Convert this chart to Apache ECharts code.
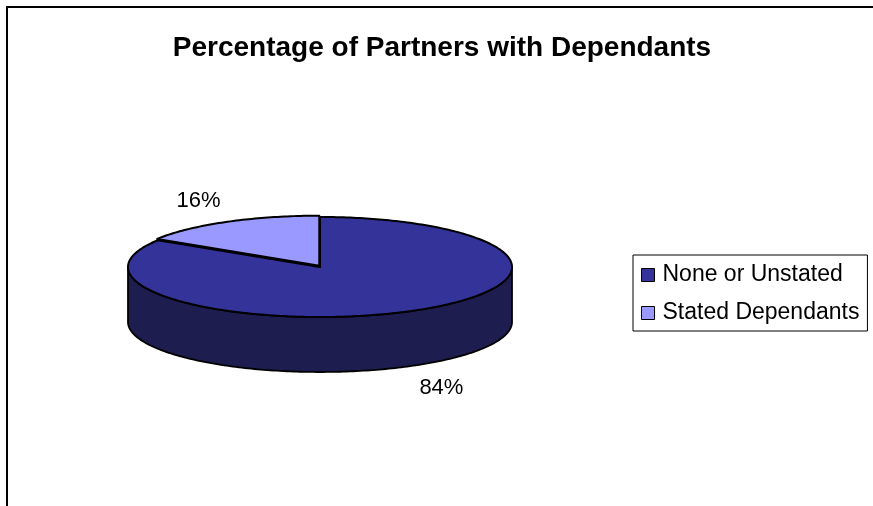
<!DOCTYPE html>
<html>
<head>
<meta charset="utf-8">
<title>Percentage of Partners with Dependants</title>
<script src="https://cdn.jsdelivr.net/npm/echarts@6/dist/echarts.min.js"></script>
<style>
  html, body { margin: 0; padding: 0; background: #fff; }
  #chart { width: 873px; height: 506px; }
</style>
</head>
<body>
<div id="chart"></div>
<script>
// data
const categories = ['None or Unstated', 'Stated Dependants'];
const values = [84, 16];

const total = values.reduce((s, v) => s + v, 0);
const starts = values.map((v, i) => values.slice(0, i).reduce((s, x) => s + x, 0));

// pie geometry (flattened 3d look)
const pie = { cx: 320, cy: 267, rx: 192, ry: 50, depth: 55 };
const topColors = ['#333399', '#9999ff'];
const sideColors = ['#1d1d4f', '#4d4d80'];
const explode = [0, 1.5];

const pt = (deg, dx, dy) => {
    const t = deg * Math.PI / 180;
    return [pie.cx + dx + pie.rx * Math.sin(t), pie.cy + dy - pie.ry * Math.cos(t)];
};

const makeRender = (idx) => (params, api) => {
    const start = api.value(0);
    const val = api.value(1);
    const a = start / total * 360;
    const b = (start + val) / total * 360;
    const mid = (a + b) / 2;
    const mr = mid * Math.PI / 180;
    const ox = explode[idx] * Math.sin(mr);
    const oy = -explode[idx] * Math.cos(mr);

    const children = [];

    // visible front wall
    const s = Math.max(a, 90), e = Math.min(b, 270);
    if (s < e) {
        const side = [];
        for (let d = s; d <= e; d += 1) side.push(pt(d, ox, oy));
        side.push(pt(e, ox, oy));
        for (let d = e; d >= s; d -= 1) side.push(pt(d, ox, oy + pie.depth));
        side.push(pt(s, ox, oy + pie.depth));
        children.push({
            type: 'polygon',
            shape: { points: side },
            style: { fill: sideColors[idx], stroke: '#000', lineWidth: 1.8, lineJoin: 'round' }
        });
    }

    // top face
    const topPts = [[pie.cx + ox, pie.cy + oy]];
    for (let d = a; d < b; d += 1) topPts.push(pt(d, ox, oy));
    topPts.push(pt(b, ox, oy));
    children.push({
        type: 'polygon',
        shape: { points: topPts },
        style: { fill: api.visual('color'), stroke: '#000', lineWidth: 2, lineJoin: 'round' }
    });

    // percentage label outside the slice
    const front = Math.cos(mr) < 0 ? pie.depth : 0;
    children.push({
        type: 'text',
        x: pie.cx + (pie.rx + 60) * Math.sin(mr),
        y: pie.cy - (pie.ry + 25) * Math.cos(mr) + front,
        style: {
            text: Math.round(val / total * 100) + '%',
            font: '22px "Liberation Sans", Arial, sans-serif',
            fill: '#000',
            align: 'center',
            verticalAlign: 'middle'
        }
    });

    return { type: 'group', children };
};

const chart = echarts.init(document.getElementById('chart'), null, { renderer: 'canvas' });

chart.setOption({
    animation: false,
    title: {
        text: 'Percentage of Partners with Dependants',
        left: 437,
        top: 29,
        textAlign: 'center',
        textStyle: {
            fontFamily: '"Liberation Sans", Arial, sans-serif',
            fontSize: 28,
            fontWeight: 'bold',
            color: '#000'
        }
    },
    legend: {
        orient: 'vertical',
        left: 633,
        top: 255,
        data: categories,
        icon: 'rect',
        itemWidth: 13,
        itemHeight: 13,
        itemGap: 14,
        padding: [8, 8, 6, 8],
        borderColor: '#000',
        borderWidth: 1,
        selectedMode: false,
        itemStyle: { borderColor: '#000', borderWidth: 1 },
        textStyle: {
            fontFamily: '"Liberation Sans", Arial, sans-serif',
            fontSize: 23,
            lineHeight: 24,
            color: '#000',
            padding: [0, 0, 0, 3]
        }
    },
    graphic: [{
        type: 'rect',
        shape: { x: 7, y: 7, width: 900, height: 600 },
        style: { fill: 'none', stroke: '#000', lineWidth: 2 },
        silent: true
    }],
    series: categories.map((name, i) => ({
        type: 'custom',
        name: name,
        coordinateSystem: 'none',
        itemStyle: { color: topColors[i] },
        data: [[starts[i], values[i]]],
        renderItem: makeRender(i)
    }))
});
</script>
</body>
</html>
